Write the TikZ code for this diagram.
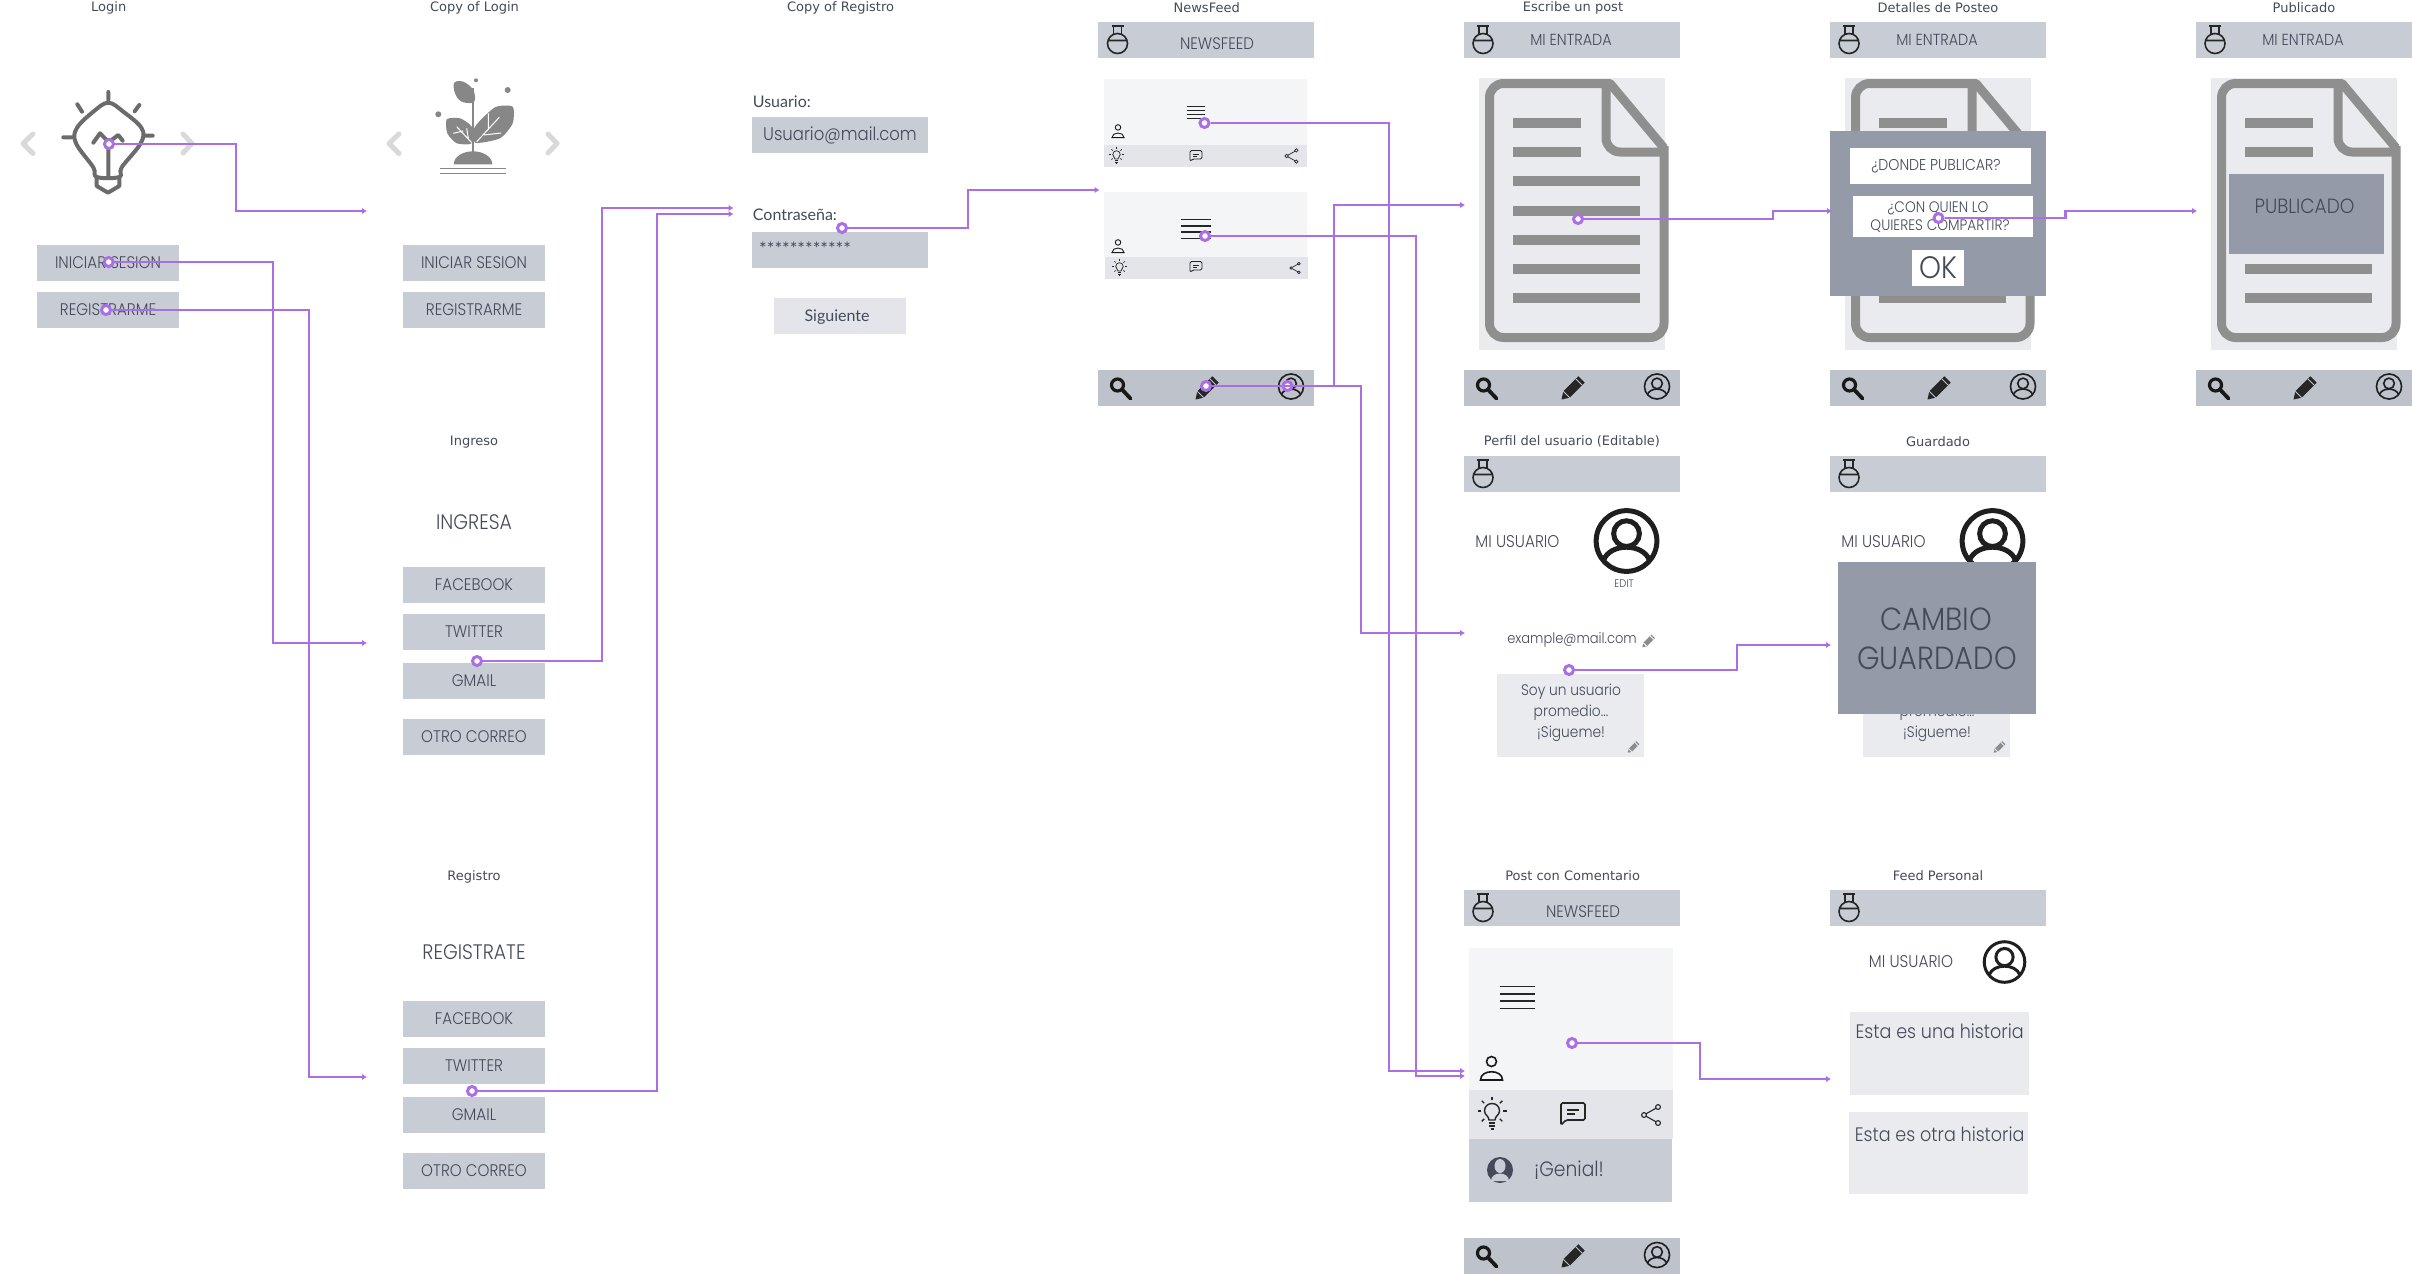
\documentclass[tikz,border=0pt]{standalone}
\usepackage{fontspec}
\setmainfont{DejaVu Sans}
\newfontfamily\geofont[FakeStretch=0.9]{Poppins Light}
\newfontfamily\humanfont{Lato}
\usetikzlibrary{arrows.meta}
\definecolor{barA}{HTML}{C8CCD4}
\definecolor{barB}{HTML}{BEC2CB}
\definecolor{cardA}{HTML}{F4F5F7}
\definecolor{cardB}{HTML}{E3E5EA}
\definecolor{paperA}{HTML}{EAEBEF}
\definecolor{veilA}{HTML}{949AA7}
\definecolor{inkA}{HTML}{444A5A}
\definecolor{docA}{HTML}{8F8F8F}
\definecolor{flowA}{HTML}{AB6FE3}
\newcommand{\fs}[1]{\fontsize{#1}{#1}\selectfont\baselineskip=1.37\baselineskip}
\tikzset{
	screentitle/.style={text=inkA,font=\fs{13},inner sep=0pt},
	geotext/.style={text=inkA,font=\geofont\fs{#1},inner sep=0pt,align=center},
	geotext/.default=16,
	humantext/.style={text=inkA,font=\humanfont\fs{#1},inner sep=0pt},
	btn/.style={fill=barA,text=inkA,font=\geofont\fs{16.8},inner sep=0pt,minimum width=142pt,minimum height=36pt},
	topbar/.style={fill=barA,inner sep=0pt,minimum width=216pt,minimum height=36pt},
	lowbar/.style={fill=barB,inner sep=0pt,minimum width=216pt,minimum height=36pt},
	flow/.style={draw=flowA,line width=2.2pt,-{Latex[length=5pt,width=6.5pt]}},
	flowdot/.style={circle,draw=flowA,fill=white,line width=3pt,inner sep=0pt,minimum size=9pt},
	chev/.style={draw=black!15,line width=5pt,line cap=round,line join=round},
	pics/flaskicon/.style={code={
		\draw[black!85,line width=1.6pt] (-6,-17.5) -- (6,-17.5) (-4,-17.5) -- (-4,-9) (4,-17.5) -- (4,-9);
		\draw[black!85,line width=1.6pt] (0,0) circle (10) (-9.5,-3) -- (9.5,-3);
	}},
	pics/searchicon/.style={code={
		\draw[black!90,line width=3.2pt] (-3.5,-3) circle (6);
		\draw[black!90,line width=3.8pt,line cap=round] (1,1.5) -- (9.5,10.5);
	}},
	pics/pencilicon/.style 2 args={code={
		\fill[#1] (-9.7,3.3) -- (5.3,-11.7) -- (11.7,-5.3) -- (-3.3,9.7) -- (-11.5,11.5) -- cycle;
		\draw[#2,line width=0.8pt] (2.8,-9.2) -- (9.2,-2.8) (-9.7,3.3) -- (-3.3,9.7);
	}},
	pics/profileicon/.style={code={
		\draw[black!88] (0,0) circle (33) (0,-8) circle (14);
		\draw[black!88] (-25,21) .. controls (-18,2) and (18,2) .. (25,21);
	}},
	pics/personicon/.style={code={
		\draw[black!90] (0,-6.5) circle (5);
		\draw[black!90] (-11,12) .. controls (-11,1) and (11,1) .. (11,12) -- cycle;
	}},
	pics/linesicon/.style={code={
		\foreach \ly in {-11,-3.7,3.7,11} {
			\draw[black!85] (-17.5,\ly) -- (17.5,\ly);
		}
	}},
	pics/lampicon/.style={code={
		\draw[black!85] (-3,4) .. controls (-3,0) and (-7.5,-1) .. (-7.5,-5) .. controls (-7.5,-15) and (7.5,-15) .. (7.5,-5) .. controls (7.5,-1) and (3,0) .. (3,4) -- cycle;
		\draw[black!85] (-3,7) -- (3,7) (-3,10) -- (3,10) (-1.5,13) -- (1.5,13);
		\foreach \ray in {0,45,135,180,225,270,315} {
			\draw[black!85] ([shift={(0,-5)}]\ray:11) -- ([shift={(0,-5)}]\ray:14.5);
		}
	}},
	pics/chaticon/.style={code={
		\draw[black!85,rounded corners=1.5pt] (-12,11) -- (-12,-11) -- (12,-11) -- (12,6) -- (-7,6) -- cycle;
		\draw[black!85] (-6,-4) -- (6,-4) (-6,0) -- (2,0);
	}},
	pics/shareicon/.style={code={
		\draw[black!85] (7,-8) circle (2.4) (-7,0) circle (2.4) (7,8) circle (2.4);
		\draw[black!85] (-5,-1.2) -- (5,-6.8) (-5,1.2) -- (5,6.8);
	}},
	pics/docicon/.style={code={
		\fill[paperA] (0,0) rectangle (186,272);
		\draw[docA,line width=9pt,line join=round,rounded corners=14pt] (127,5.5) -- (10.5,5.5) -- (10.5,259.5) -- (185,259.5) -- (185,68);
		\draw[docA,line width=9pt,line join=round,rounded corners=14pt] (185,74) -- (127,74) -- (127,5.5);
		\draw[docA,line width=9pt,line join=round] (127,5.5) -- (131,5.5) -- (185,70);
		\foreach \ly/\lx in {40/102,69/102,98/161,128/161,157/161,186/161,215/161} {
			\fill[docA] (34,\ly) rectangle (\lx,\ly+9.6);
		}
	}},
}
\begin{document}
\begin{tikzpicture}[x=1pt,y=-1pt]
	\useasboundingbox (0,0) rectangle (2412,1274);

	\node[screentitle] (tLogin) at (108.7,7.5) {Login};
	\node[screentitle] (tCopyLogin) at (474.5,7.5) {Copy of Login};
	\node[screentitle] (tCopyReg) at (840.6,7.5) {Copy of Registro};
	\node[screentitle] (tFeed) at (1206.7,7.5) {NewsFeed};
	\node[screentitle] (tPost) at (1573,7.5) {Escribe un post};
	\node[screentitle] (tDetail) at (1938,7.5) {Detalles de Posteo};
	\node[screentitle] (tDone) at (2304,7.5) {Publicado};
	\node[screentitle] (tIngreso) at (474,442.5) {Ingreso};
	\node[screentitle] (tRegistro) at (474,876.5) {Registro};
	\node[screentitle] (tPerfil) at (1572,441.5) {Perfil del usuario (Editable)};
	\node[screentitle] (tSaved) at (1938,441.5) {Guardado};
	\node[screentitle] (tComment) at (1572.6,875.5) {Post con Comentario};
	\node[screentitle] (tPersonal) at (1938,875.5) {Feed Personal};

	\draw[chev] (33,134) -- (23,143.5) -- (33,153.5);
	\draw[chev] (183,134) -- (192,143.5) -- (183,153);
	\draw[chev] (399,134) -- (389,143.5) -- (399,153.5);
	\draw[chev] (548,134) -- (557,143.5) -- (548,153);

	\draw[black!58,line width=4pt,line cap=round,line join=round] plot[smooth cycle,tension=.6] coordinates {(108.3,102.7) (123.3,111.7) (141.7,128.3) (140.7,143.3) (121.7,167.3) (119.3,177) (96.7,177) (93.3,167.3) (76,143.3) (76.7,128.3) (93.3,111.7)};
	\draw[black!58,line width=4pt,line cap=round,line join=round] (96.7,177) -- (96.7,186) -- (108,192.7) -- (119.3,186) -- (119.3,177)
		(108.3,92) -- (108.3,100) (77.3,104.3) -- (82,111.7) (139.3,105) -- (134.7,111.3) (63.3,137.3) -- (71.3,137.3) (145,135.7) -- (152.7,135.7)
		(93.3,142.7) -- (100,133.3) -- (107.3,140.7) (110.7,140.7) -- (118.3,135) -- (122.7,140.7) (108.3,145) -- (108.3,177);

	\fill[black!47] plot[smooth cycle,tension=.6] coordinates {(454.3,82.7) (463.3,81.7) (473.3,90) (474,102) (461.7,101.7) (455,93.3)};
	\fill[black!47] plot[smooth cycle,tension=.4] coordinates {(512.7,106.7) (495,107.3) (475,126.7) (475,142.7) (500,138.3) (512.7,123.3)};
	\fill[black!47] plot[smooth cycle,tension=.4] coordinates {(446.7,119.3) (460,118.3) (471.7,126.7) (471.7,143.3) (456.7,143.3) (447.3,133.3)};
	\draw[black!47,line width=1.5pt] (473,88) -- (473,153);
	\draw[white,line width=1pt] (476.7,141.7) -- (499.3,117.3) (488.3,113.3) -- (488.3,130) (484,135) -- (501,133)
		(471.7,142.7) -- (456.7,126.7) (453.3,133.3) -- (463.3,131) (466.7,128.3) -- (468.3,138.3);
	\fill[black!47] (453.7,164.3) arc[start angle=180,end angle=360,x radius=19.3,y radius=13] -- cycle;
	\fill[black!47] (476,80.3) circle (2) (507.7,90) circle (3) (438.3,114.3) circle (3);
	\draw[black!47,line width=1.4pt] (440,168.7) -- (506,168.7) (440,173.3) -- (506,173.3);

	\node[btn] (bIniciar) at (108,263) {INICIAR SESION};
	\node[btn] (bRegistrar) at (108,310) {REGISTRARME};
	\node[btn] (bIniciarB) at (474,263) {INICIAR SESION};
	\node[btn] (bRegistrarB) at (474,310) {REGISTRARME};

	\node[geotext=21] (hIngresa) at (474,522) {INGRESA};
	\node[btn] (bFaceA) at (474,585) {FACEBOOK};
	\node[btn] (bTwitA) at (474,632) {TWITTER};
	\node[btn] (bMailA) at (474,681) {GMAIL};
	\node[btn] (bOtroA) at (474,737) {OTRO CORREO};

	\node[geotext=21] (hRegistrate) at (474,952) {REGISTRATE};
	\node[btn] (bFaceB) at (474,1019) {FACEBOOK};
	\node[btn] (bTwitB) at (474,1066) {TWITTER};
	\node[btn] (bMailB) at (474,1115) {GMAIL};
	\node[btn] (bOtroB) at (474,1171) {OTRO CORREO};

	\node[humantext=16,anchor=west] (lUser) at (752.7,102) {Usuario:};
	\node[btn,minimum width=176pt,font=\geofont\fs{18.3}] (fUser) at (840,135) {Usuario@mail.com};
	\node[humantext=16,anchor=west] (lPass) at (752.7,215) {Contraseña:};
	\node[btn,minimum width=176pt] (fPass) at (840,250) {};
	\node[humantext=18,anchor=west] (sPass) at (759,249) {************};
	\node[btn,fill=cardB,minimum width=132pt] (bNext) at (840,316) {};
	\node[humantext=16] (nNext) at (837,317) {Siguiente};

	\node[topbar] (barFeed) at (1206,40) {};
	\pic at (1117.5,43.5) {flaskicon};
	\node[geotext=16.7] (nFeed) at (1217,44) {NEWSFEED};
	\fill[cardA] (1104,79) rectangle (1307,145);
	\fill[cardB] (1104,145) rectangle (1307,167);
	\fill[cardA] (1104,192) rectangle (1307,257);
	\fill[cardB] (1105,257) rectangle (1308,279);
	\pic[scale=.52,line width=1.1pt] at (1196,112.5) {linesicon};
	\pic[scale=.85,line width=1.5pt] at (1196,229) {linesicon};
	\pic[scale=.55,line width=.9pt] at (1118,131) {personicon};
	\pic[scale=.55,line width=.9pt] at (1118,246) {personicon};
	\pic[scale=.5,line width=.7pt] at (1116.5,157) {lampicon};
	\pic[scale=.5,line width=.9pt] at (1196,156) {chaticon};
	\pic[scale=.7,line width=.7pt] at (1291.5,156) {shareicon};
	\pic[scale=.5,line width=.7pt] at (1119.5,269) {lampicon};
	\pic[scale=.5,line width=.9pt] at (1196,267) {chaticon};
	\pic[scale=.55,line width=.7pt] at (1295,268) {shareicon};
	\node[lowbar] (lowFeed) at (1206,388) {};
	\pic at (1121,388) {searchicon};
	\pic at (1207,388) {pencilicon={black!85}{barB}};
	\pic[scale=.38,line width=1.6pt] at (1291,386.5) {profileicon};

	\foreach \cx/\nm in {1572/Post,1938/Detail,2304/Done} {
		\node[topbar] (bar\nm) at (\cx,40) {};
		\pic at (\cx-89,43.5) {flaskicon};
		\node[geotext=16] (entry\nm) at (\cx-1,40) {MI ENTRADA};
		\pic at (\cx-93,78) {docicon};
		\node[lowbar] (low\nm) at (\cx,388) {};
		\pic at (\cx-85,388) {searchicon};
		\pic at (\cx+1,388) {pencilicon={black!85}{barB}};
		\pic[scale=.38,line width=1.6pt] at (\cx+85,386.5) {profileicon};
	}

	\node[fill=veilA,inner sep=0pt,minimum width=216pt,minimum height=165pt] (veilDetail) at (1938,213.5) {};
	\node[fill=white,inner sep=0pt,minimum width=181pt,minimum height=36pt] (qWhere) at (1940.5,166) {};
	\node[geotext=15.7] (nWhere) at (1936,166) {¿DONDE PUBLICAR?};
	\node[fill=white,inner sep=0pt,minimum width=180pt,minimum height=41pt] (qWho) at (1943,216.5) {};
	\node[geotext=15.2] (nWhoA) at (1938,208) {¿CON QUIEN LO};
	\node[geotext=15.2] (nWhoB) at (1940,226) {QUIERES COMPARTIR?};
	\node[fill=white,text=inkA,font=\geofont\fs{31},inner sep=0pt,minimum width=52pt,minimum height=36pt] (bOk) at (1938,268) {OK};
	\node[fill=veilA,inner sep=0pt,minimum width=155pt,minimum height=80pt] (boxDone) at (2306.5,214) {};
	\node[geotext=20.6] (nDone) at (2304.5,206) {PUBLICADO};

	\foreach \cx/\nm in {1572/Perfil,1938/Saved} {
		\node[topbar] (bar\nm) at (\cx,474) {};
		\pic at (\cx-89,477.5) {flaskicon};
		\node[geotext=17] (user\nm) at (\cx-54.5,542) {MI USUARIO};
		\pic[scale=.92,line width=5pt] at (\cx+54.5,541) {profileicon};
		\node[fill=paperA,inner sep=0pt,minimum width=147pt,minimum height=83pt] (bio\nm) at (\cx-1.5,715.5) {};
		\pic[scale=.5] at (\cx+61.5,747) {pencilicon={black!45}{paperA}};
	}
	\node[geotext=11] (nEdit) at (1624,584) {EDIT};
	\node[geotext=14.5] (nMail) at (1572,640) {example@mail.com};
	\pic[scale=.55] at (1648.6,641) {pencilicon={black!45}{white}};
	\node[geotext=15.3] (nBio) at (1571,713) {Soy un usuario\\promedio...\\¡Sigueme!};
	\node[geotext=15.3] (nBioB) at (1937,723) {promedio...\\¡Sigueme!};
	\node[fill=veilA,inner sep=0pt,minimum width=198pt,minimum height=152pt] (veilSaved) at (1936.5,638) {};
	\node[geotext=32] (nChange) at (1936,619) {CAMBIO};
	\node[geotext=32] (nKept) at (1937,658) {GUARDADO};

	\node[topbar] (barComment) at (1572,908) {};
	\pic at (1483,911.5) {flaskicon};
	\node[geotext=16.7] (nFeedB) at (1583,912) {NEWSFEED};
	\fill[cardA] (1469,948) rectangle (1673,1090);
	\fill[cardB] (1469,1090) rectangle (1673,1139);
	\node[fill=barA,inner sep=0pt,minimum width=203pt,minimum height=63pt] (boxGenial) at (1570.5,1170.5) {};
	\pic[line width=1.9pt] at (1517.5,997.5) {linesicon};
	\pic[line width=1.6pt] at (1491.5,1068) {personicon};
	\pic[line width=1.4pt] at (1492,1116) {lampicon};
	\pic[line width=1.6pt] at (1573,1114) {chaticon};
	\pic[line width=1.1pt] at (1651,1115) {shareicon};
	\node[circle,fill=inkA,inner sep=0pt,minimum size=26pt] (avatar) at (1500,1170) {};
	\fill[barA] (1500,1166) ellipse (5.5 and 7) (1491,1181) .. controls (1491,1171) and (1509,1171) .. (1509,1181) -- cycle;
	\node[geotext=20.8] (nGenial) at (1569,1170) {¡Genial!};
	\node[lowbar] (lowComment) at (1572,1256) {};
	\pic at (1487,1256) {searchicon};
	\pic at (1573,1256) {pencilicon={black!85}{barB}};
	\pic[scale=.38,line width=1.6pt] at (1657,1255) {profileicon};

	\node[topbar] (barPersonal) at (1938,908) {};
	\pic at (1849,911.5) {flaskicon};
	\node[geotext=17] (userPersonal) at (1911,962) {MI USUARIO};
	\pic[scale=.615,line width=3pt] at (2004.5,962) {profileicon};
	\node[fill=paperA,inner sep=0pt,minimum width=179pt,minimum height=83pt] (story1) at (1939.5,1053.5) {};
	\node[geotext=19.5] (nStory1) at (1939.6,1031) {Esta es una historia};
	\node[fill=paperA,inner sep=0pt,minimum width=179pt,minimum height=82pt] (story2) at (1938.5,1153) {};
	\node[geotext=19.5] (nStory2) at (1939.6,1134) {Esta es otra historia};

	\coordinate (inCopy) at (367,211);
	\coordinate (inIngreso) at (367,643);
	\coordinate (inRegistro) at (367,1077);
	\coordinate (inPassA) at (733.5,208);
	\coordinate (inPassB) at (733.5,214);
	\coordinate (inFeed) at (1099.5,190);
	\coordinate (inPost) at (1465,205);
	\coordinate (inPerfil) at (1465,633);
	\coordinate (inCommentA) at (1465,1071);
	\coordinate (inCommentB) at (1465,1076);
	\coordinate (inDetail) at (1832,211);
	\coordinate (inDone) at (2197,211);
	\coordinate (inSaved) at (1831,645);
	\coordinate (inPersonal) at (1831,1079);

	\node[flowdot] (dLogin) at (109,144) {};
	\node[flowdot] (dIniciar) at (108.7,262) {};
	\node[flowdot] (dRegistrar) at (106,310) {};
	\node[flowdot] (dMailA) at (477,661) {};
	\node[flowdot] (dMailB) at (472,1091) {};
	\node[flowdot] (dPass) at (842,228) {};
	\node[flowdot] (dLinesA) at (1204.5,123) {};
	\node[flowdot] (dLinesB) at (1205,236) {};
	\node[flowdot] (dPencil) at (1206,386) {};
	\node[flowdot] (dProfile) at (1287.5,386) {};
	\node[flowdot] (dDoc) at (1578,219) {};
	\node[flowdot] (dDetail) at (1938.5,218) {};
	\node[flowdot] (dBio) at (1569,670) {};
	\node[flowdot] (dPostB) at (1572,1043) {};

	\draw[flow] (dLogin) -| (236,211) -- (inCopy);
	\draw[flow] (dIniciar) -| (273,643) -- (inIngreso);
	\draw[flow] (dRegistrar) -| (309,1077) -- (inRegistro);
	\draw[flow] (dMailA) -| (602,208) -- (inPassA);
	\draw[flow] (dMailB) -| (657,214) -- (inPassB);
	\draw[flow] (dPass) -| (968,190) -- (inFeed);
	\draw[flow] (dLinesA) -| (1389,1071) -- (inCommentA);
	\draw[flow] (dLinesB) -| (1416,1076) -- (inCommentB);
	\draw[flow] (dPencil) -| (1334,205) -- (inPost);
	\draw[flow] (dProfile) -| (1361,633) -- (inPerfil);
	\draw[flow] (dDoc) -| (1773,211) -- (inDetail);
	\draw[flow] (dDetail) -| (2065.5,211) -- (inDone);
	\draw[flow] (dBio) -| (1737,645) -- (inSaved);
	\draw[flow] (dPostB) -| (1700,1079) -- (inPersonal);
\end{tikzpicture}
\end{document}
